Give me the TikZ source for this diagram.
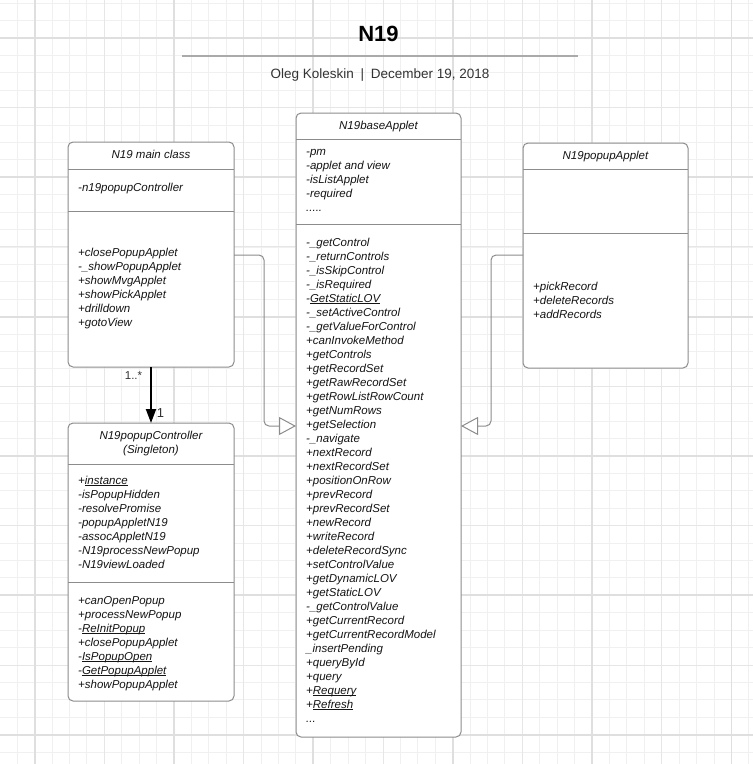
\documentclass[tikz,border=0pt]{standalone}
\usepackage{fontspec}
\setmainfont{Liberation Sans}
\usetikzlibrary{arrows.meta}
\definecolor{gminor}{HTML}{F0F0F0}
\definecolor{gmed}{HTML}{E6E6E6}
\definecolor{gmajor}{HTML}{DFDFDF}
\definecolor{boxline}{HTML}{8C8C8C}
\definecolor{txt}{HTML}{141414}
\definecolor{subtxt}{HTML}{333333}
\definecolor{titleline}{HTML}{AAAAAA}
\newcommand\myul[1]{\setbox0\hbox{#1}\rlap{\rule[-2pt]{\wd0}{0.7pt}}\box0}
\newcommand\dotsfive{.....}
\newcommand\dotsthree{...}
\tikzset{
  umlbox/.style={draw=boxline, line width=1pt, fill=white, rounded corners=5pt, inner sep=0pt, outer sep=0pt, anchor=north west},
  sepline/.style={draw=boxline, line width=1pt},
  mtxt/.style={font=\fontsize{11.5}{14}\selectfont\itshape, text=txt, inner sep=0pt, anchor=base west},
  htxt/.style={font=\fontsize{11.5}{14}\selectfont\itshape, text=txt, inner sep=0pt, anchor=base},
  gen/.style={draw=boxline, line width=1pt, rounded corners=5pt, -{Triangle[length=17pt, width=18pt, fill=white]}},
  assoc/.style={draw=black, line width=2pt, -{Triangle[length=14pt, width=10pt]}},
  mult/.style={font=\fontsize{11.5}{14}\selectfont, text=subtxt, inner sep=0pt},
}
\begin{document}
\begin{tikzpicture}[x=1pt, y=-1pt]
\useasboundingbox (0,0) rectangle (753,764);
\fill[white] (0,0) rectangle (753,764);
% grid
\foreach \k in {0,...,43} {
  \draw[gminor, line width=0.9pt] ({-0.24+17.42*\k},0) -- ({-0.24+17.42*\k},764);
  \draw[gminor, line width=0.9pt] (0,{3.07+17.42*\k}) -- (753,{3.07+17.42*\k});
}
\foreach \k in {2,6,...,42} {
  \draw[gmed, line width=1pt] ({-0.24+17.42*\k},0) -- ({-0.24+17.42*\k},764);
  \draw[gmed, line width=1pt] (0,{3.07+17.42*\k}) -- (753,{3.07+17.42*\k});
}
\foreach \k in {2,10,...,42} {
  \draw[gmajor, line width=1.8pt] ({-0.24+17.42*\k},0) -- ({-0.24+17.42*\k},764);
  \draw[gmajor, line width=1.8pt] (0,{3.07+17.42*\k}) -- (753,{3.07+17.42*\k});
}
% title
\node[font=\fontsize{22}{26}\selectfont\bfseries, anchor=base, inner sep=0pt] (title) at (378.5,41) {N19};
\draw[titleline, line width=1.5pt] (182,56) -- (578,56);
\node[font=\fontsize{13.5}{16}\selectfont, text=subtxt, anchor=base, inner sep=0pt] (subtitle) at (380,78) {Oleg Koleskin\enspace|\enspace December 19, 2018};

% boxes
\node[umlbox, minimum width=166pt, minimum height=225pt] (main) at (68,142) {};
\node[umlbox, minimum width=165pt, minimum height=624pt] (base) at (296,113) {};
\node[umlbox, minimum width=165pt, minimum height=225pt] (popup) at (523,143) {};
\node[umlbox, minimum width=166pt, minimum height=278pt] (ctrl) at (68,423) {};

% separators
\draw[sepline] (main.west |- 0,169) -- (main.east |- 0,169);
\draw[sepline] (main.west |- 0,211) -- (main.east |- 0,211);
\draw[sepline] (base.west |- 0,139) -- (base.east |- 0,139);
\draw[sepline] (base.west |- 0,224) -- (base.east |- 0,224);
\draw[sepline] (popup.west |- 0,169) -- (popup.east |- 0,169);
\draw[sepline] (popup.west |- 0,233) -- (popup.east |- 0,233);
\draw[sepline] (ctrl.west |- 0,464) -- (ctrl.east |- 0,464);
\draw[sepline] (ctrl.west |- 0,582) -- (ctrl.east |- 0,582);

% main class texts
\node[htxt] (mainh) at (151,158) {N19 main class};
\node[mtxt] (maina) at (78,191) {-n19popupController};
\foreach \t [count=\i from 0] in {+closePopupApplet,-\_showPopupApplet,+showMvgApplet,+showPickApplet,+drilldown,+gotoView}
  \node[mtxt] (mainm\i) at (78,256+14*\i) {\t};

% base applet texts
\node[htxt] (baseh) at (378.5,129) {N19baseApplet};
\foreach \t [count=\i from 0] in {-pm,-applet and view,-isListApplet,-required,\dotsfive}
  \node[mtxt] (basea\i) at (306,155+14*\i) {\t};
\foreach \t [count=\i from 0] in {-\_getControl,-\_returnControls,-\_isSkipControl,-\_isRequired,-\myul{GetStaticLOV},-\_setActiveControl,-\_getValueForControl,+canInvokeMethod,+getControls,+getRecordSet,+getRawRecordSet,+getRowListRowCount,+getNumRows,+getSelection,-\_navigate,+nextRecord,+nextRecordSet,+positionOnRow,+prevRecord,+prevRecordSet,+newRecord,+writeRecord,+deleteRecordSync,+setControlValue,+getDynamicLOV,+getStaticLOV,-\_getControlValue,+getCurrentRecord,+getCurrentRecordModel,\_insertPending,+queryById,+query,+\myul{Requery},+\myul{Refresh},\dotsthree}
  \node[mtxt] (basem\i) at (306,246+14*\i) {\t};

% popup applet texts
\node[htxt] (popuph) at (605.5,159) {N19popupApplet};
\foreach \t [count=\i from 0] in {+pickRecord,+deleteRecords,+addRecords}
  \node[mtxt] (popupm\i) at (533,290+14*\i) {\t};

% controller texts
\node[htxt] (ctrlh1) at (151,439) {N19popupController};
\node[htxt] (ctrlh2) at (151,453) {(Singleton)};
\foreach \t [count=\i from 0] in {+\myul{instance},-isPopupHidden,-resolvePromise,-popupAppletN19,-assocAppletN19,-N19processNewPopup,-N19viewLoaded}
  \node[mtxt] (ctrla\i) at (78,484+14*\i) {\t};
\foreach \t [count=\i from 0] in {+canOpenPopup,+processNewPopup,-\myul{ReInitPopup},+closePopupApplet,-\myul{IsPopupOpen},-\myul{GetPopupApplet},+showPopupApplet}
  \node[mtxt] (ctrlm\i) at (78,604+14*\i) {\t};

% connectors
\draw[assoc] (main.south) -- (ctrl.north);
\node[mult] (m1) at (133.5,376) {1..*};
\node[mult, font=\fontsize{13}{15}\selectfont] (m2) at (160.5,413) {1};
\draw[gen] (main.east |- 0,255) -- (264,255) -- (264,426) -- (base.west |- 0,426);
\draw[gen] (popup.west |- 0,255) -- (491,255) -- (491,426) -- (base.east |- 0,426);
\end{tikzpicture}
\end{document}
